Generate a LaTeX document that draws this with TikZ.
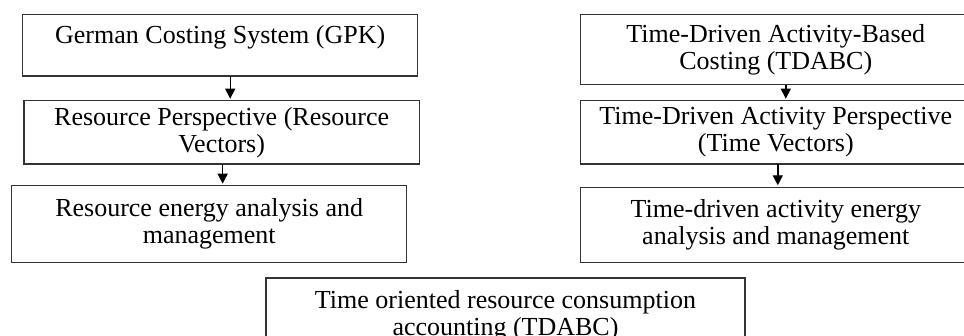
\documentclass[tikz,border=0pt]{standalone}
\usepackage{fontspec}
\setmainfont{Liberation Serif}
\usetikzlibrary{arrows.meta}

\begin{document}
\begin{tikzpicture}[x=1pt,y=-1pt,
  box/.style={draw=black!80, line width=1.5pt, rectangle, anchor=north west,
    align=center, inner sep=0pt, outer sep=0pt, font=\fontsize{26}{27}\selectfont},
  arr/.style={draw, line width=1.4pt, shorten >=2pt, -{Triangle[length=10pt,width=10pt]}}]
\path[use as bounding box, clip] (0,0) rectangle (964,336);

% left column: GPK
\node[box, minimum width=395pt, minimum height=61.7pt] (1) at (22.7,14.3) {German Costing System (GPK)\\[-5pt] \mbox{}};
\node[box, minimum width=395.3pt, minimum height=63.3pt] (2) at (24,100.7) {Resource Perspective (Resource\\Vectors)};
\node[box, minimum width=395pt, minimum height=76.6pt] (3) at (11.7,185.7) {Resource energy analysis and\\management};

% right column: TDABC
\node[box, minimum width=391pt, minimum height=70.4pt] (4) at (580.3,14.3) {Time-Driven Activity-Based\\Costing (TDABC)};
\node[box, minimum width=391pt, minimum height=63.3pt] (5) at (580.3,100.7) {Time-Driven Activity Perspective\\(Time Vectors)};
\node[box, minimum width=391pt, minimum height=75pt] (6) at (580.3,187.3) {Time-driven activity energy\\analysis and management};

% bottom
\node[box, minimum width=479pt, minimum height=76pt] (7) at (266,278) {Time oriented resource consumption\\accounting (TDABC)};

\path[arr] ([xshift=10pt]1.south) -- ([xshift=10pt]1.south |- 2.north);
\path[arr] ([xshift=1pt]2.south) -- ([xshift=1pt]2.south |- 3.north);
\path[arr] ([xshift=10pt]4.south) -- ([xshift=10pt]4.south |- 5.north);
\path[arr] ([xshift=2pt]5.south) -- ([xshift=2pt]5.south |- 6.north);
\end{tikzpicture}
\end{document}
